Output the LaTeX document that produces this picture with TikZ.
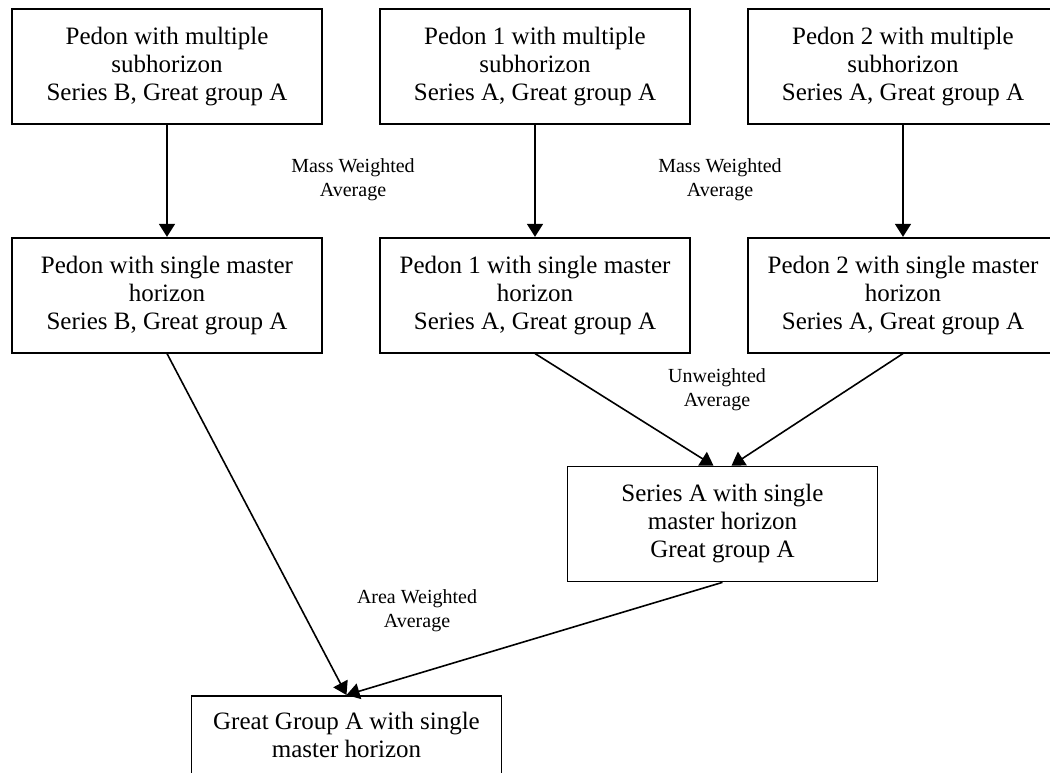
\documentclass[tikz,border=0pt]{standalone}
\usepackage{fontspec}
\setmainfont{Liberation Serif}
\usetikzlibrary{positioning, calc, arrows.meta}

\tikzset{
	soilbox/.style={draw, line width=0.85pt, minimum width=155pt, minimum height=57.5pt,
		inner sep=0pt, align=center, font=\fontsize{12.5}{14}\selectfont},
	avglabel/.style={align=center, font=\fontsize{10}{12}\selectfont},
	avgarrow/.style={line width=0.8pt, -{Triangle[length=6.5pt, width=8pt]}},
}

\begin{document}
\begin{tikzpicture}[x=0.5pt, y=-0.5pt]
	\useasboundingbox (0,0) rectangle (1050,772);
	\clip (0,0) rectangle (1050,772);
	
	\node[soilbox] (pB) at (167,66.5) {Pedon with multiple\\subhorizon\\Series B, Great group A};
	\node[soilbox] (pA1) at (535,66.5) {Pedon 1 with multiple\\subhorizon\\Series A, Great group A};
	\node[soilbox] (pA2) at (903,66.5) {Pedon 2 with multiple\\subhorizon\\Series A, Great group A};
	
	\node[soilbox, below=56pt of pB] (sB) {Pedon with single master\\horizon\\Series B, Great group A};
	\node[soilbox, below=56pt of pA1] (sA1) {Pedon 1 with single master\\horizon\\Series A, Great group A};
	\node[soilbox, below=56pt of pA2] (sA2) {Pedon 2 with single master\\horizon\\Series A, Great group A};
	
	\node[soilbox] (serA) at (722.5,524) {Series A with single\\master horizon\\Great group A};
	\node[soilbox, anchor=north] (ggA) at (346.5,695) {Great Group A with single\\master horizon\\\strut};
	
	\node[avglabel] (mw1) at (353,180) {Mass Weighted\\Average};
	\node[avglabel] (mw2) at (720,180) {Mass Weighted\\Average};
	\node[avglabel] (uw) at (717,390) {Unweighted\\Average};
	\node[avglabel] (aw) at (417,611) {Area Weighted\\Average};
	
	\draw[avgarrow] (pB) -- (sB);
	\draw[avgarrow] (pA1) -- (sA1);
	\draw[avgarrow] (pA2) -- (sA2);
	\draw[avgarrow] (sA1.south) -- ($(serA.north)+(-9,0)$);
	\draw[avgarrow] (sA2.south) -- ($(serA.north)+(9,0)$);
	\draw[avgarrow] (sB.south) -- (ggA.north);
	\draw[avgarrow] (serA.south) -- (ggA.north);
\end{tikzpicture}
\end{document}
